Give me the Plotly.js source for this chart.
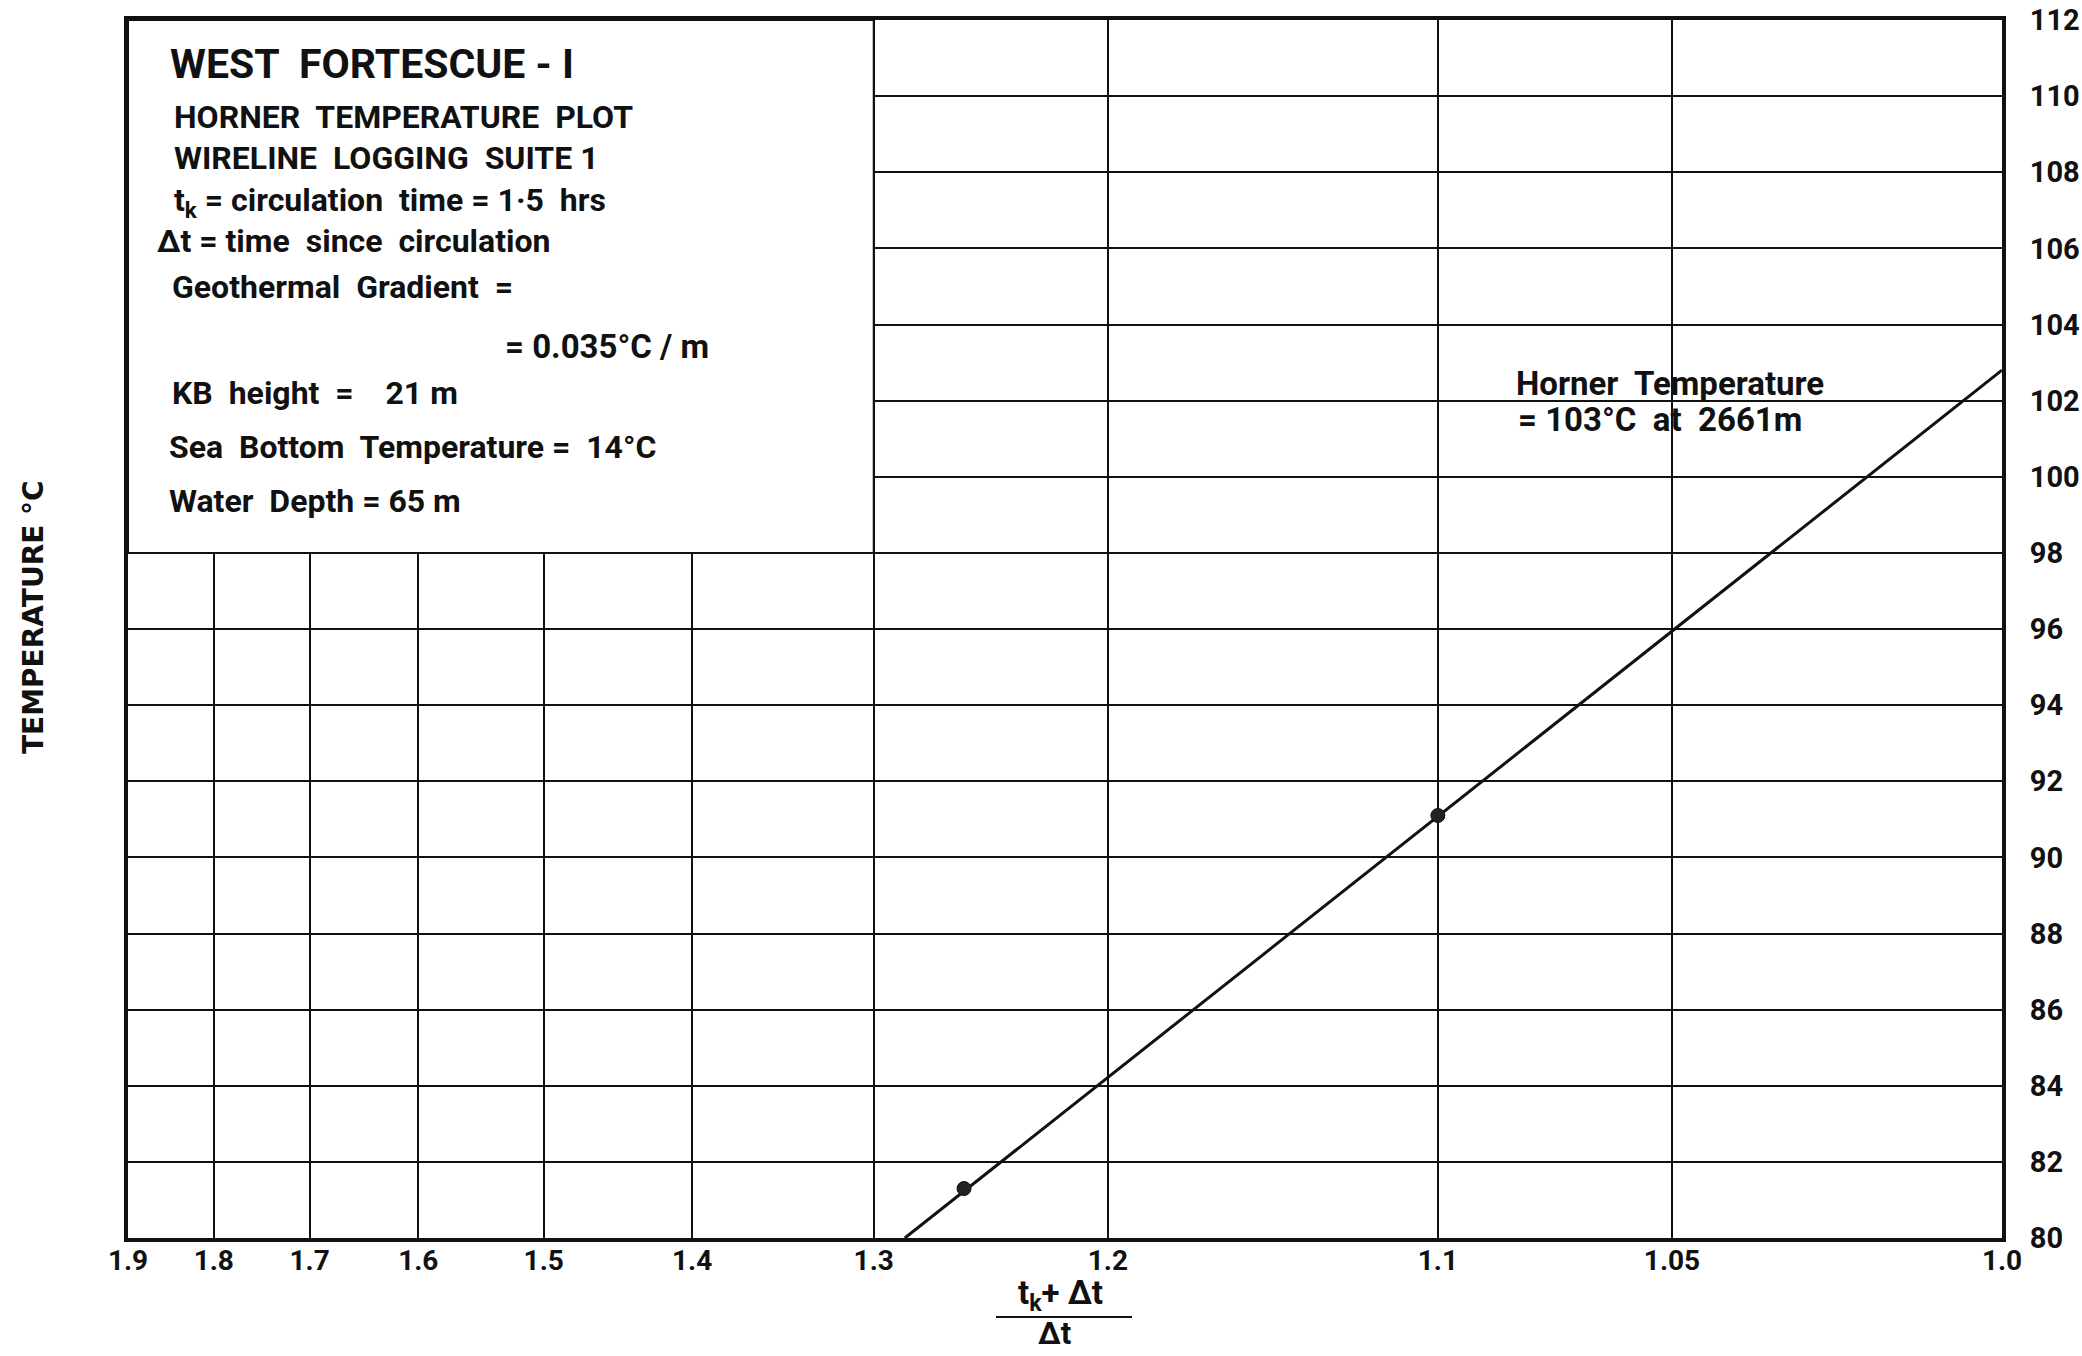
<!DOCTYPE html>
<html>
<head>
<meta charset="utf-8">
<script src="https://cdn.plot.ly/plotly-3.0.1.min.js"></script>
<style>
  html, body { margin: 0; padding: 0; background: #ffffff; }
  #chart { width: 2082px; height: 1356px; }
</style>
</head>
<body>
<div id="chart"></div>
<script>
// ---------------- data ----------------
// x tick labels printed on the log-cycle paper: (tk + Δt) / Δt
const xTickLabels = [1.9, 1.8, 1.7, 1.6, 1.5, 1.4, 1.3, 1.2, 1.1, 1.05, 1.0];
// temperature ticks (°C)
const yTickValues = [80, 82, 84, 86, 88, 90, 92, 94, 96, 98, 100, 102, 104, 106, 108, 110, 112];
// measured temperatures
const pointsX = [1.258, 1.1];
const pointsT = [81.3, 91.1];
// Horner extrapolation line
const lineX = [1.285, 1.0];
const lineT = [80, 102.8];
// text block region (label range / temperature range)
const boxX = [1.9, 1.3];
const boxT = [98, 112];

// The printed labels sit on one log cycle of the paper: label L -> cycle value 10*(L-1)+1
const paperScale = L => 10 * (L - 1) + 1;

// ---------------- layout helpers ----------------
const W = 2082, H = 1356;
const M = { l: 128, r: 80, t: 20, b: 118 };
const PW = W - M.l - M.r, PH = H - M.t - M.b;
const PX = x => (x - M.l) / PW;
const PY = y => (H - M.b - y) / PH;

const FONT = "Roboto, 'Liberation Sans', 'DejaVu Sans', sans-serif";
const INK = '#111111';

function txt(text, x, y, size, opts) {
  return Object.assign({
    text: text, xref: 'paper', yref: 'paper', x: PX(x), y: PY(y),
    xanchor: 'left', yanchor: 'middle', showarrow: false, align: 'left',
    font: { family: FONT, size: size, color: INK, weight: 'bold' }
  }, opts || {});
}

const traces = [
  {
    x: lineX.map(paperScale), y: lineT, type: 'scatter', mode: 'lines',
    line: { color: INK, width: 3 }, hoverinfo: 'skip', showlegend: false
  },
  {
    x: pointsX.map(paperScale), y: pointsT, type: 'scatter', mode: 'markers',
    marker: { color: '#222222', size: 14, line: { color: INK, width: 1 } },
    showlegend: false
  }
];

const layout = {
  width: W, height: H,
  margin: M,
  paper_bgcolor: '#ffffff', plot_bgcolor: '#ffffff',
  showlegend: false,
  xaxis: {
    type: 'log', autorange: false,
    range: [Math.log10(paperScale(1.9)), Math.log10(paperScale(1.0))],
    tickmode: 'array',
    tickvals: xTickLabels.map(paperScale),
    ticktext: xTickLabels.map(v => v === 1 ? '1.0' : String(v)),
    showgrid: true, gridcolor: INK, gridwidth: 2,
    showline: true, linecolor: INK, linewidth: 4, mirror: true,
    zeroline: false, ticks: '', ticklabelstandoff: -6,
    tickfont: { family: FONT, size: 28, color: INK, weight: 'bold' }
  },
  yaxis: {
    side: 'right', autorange: false, range: [80, 112],
    tickmode: 'array', tickvals: yTickValues,
    ticktext: yTickValues.map(String),
    showgrid: true, gridcolor: INK, gridwidth: 2,
    showline: true, linecolor: INK, linewidth: 4, mirror: true,
    zeroline: false, ticks: '', ticklabelstandoff: 18,
    tickfont: { family: FONT, size: 29, color: INK, weight: 'bold' }
  },
  shapes: [
    {
      type: 'rect', layer: 'between', xref: 'x', yref: 'y',
      x0: paperScale(boxX[0]), x1: paperScale(boxX[1]), y0: boxT[0], y1: boxT[1],
      fillcolor: '#ffffff', line: { color: INK, width: 2 }
    },
    {
      type: 'line', xref: 'paper', yref: 'paper',
      x0: PX(996), x1: PX(1132), y0: PY(1317), y1: PY(1317),
      line: { color: INK, width: 2 }
    }
  ],
  annotations: [
    txt('WEST  FORTESCUE - I', 168, 64, 41),
    txt('HORNER  TEMPERATURE  PLOT', 172, 117, 32),
    txt('WIRELINE  LOGGING  SUITE 1', 172, 158, 32),
    txt('t<sub>k</sub> = circulation  time = 1·5  hrs', 172, 202, 32),
    txt('Δt = time  since  circulation', 155, 241, 32),
    txt('Geothermal  Gradient  =', 170, 287, 32),
    txt('= 0.035°C / m', 503, 347, 33),
    txt('KB  height  =    21 m', 170, 393, 32),
    txt('Sea  Bottom  Temperature =  14°C', 167, 447, 32),
    txt('Water  Depth = 65 m', 167, 501, 32),
    txt('Horner  Temperature', 1514, 384, 33),
    txt('= 103°C  at  2661m', 1516, 419, 33),
    txt('TEMPERATURE °C', 33, 617, 28, {
      xanchor: 'center', yanchor: 'middle', textangle: -90,
      font: { family: "'DejaVu Sans', sans-serif", size: 28, color: INK, weight: 'bold' }
    }),
    txt('t<sub>k</sub>+ Δt', 1060, 1295, 33, { xanchor: 'center' }),
    txt('Δt', 1054, 1334, 31, { xanchor: 'center' })
  ]
};

Plotly.newPlot('chart', traces, layout, { staticPlot: true, displayModeBar: false });
</script>
</body>
</html>
